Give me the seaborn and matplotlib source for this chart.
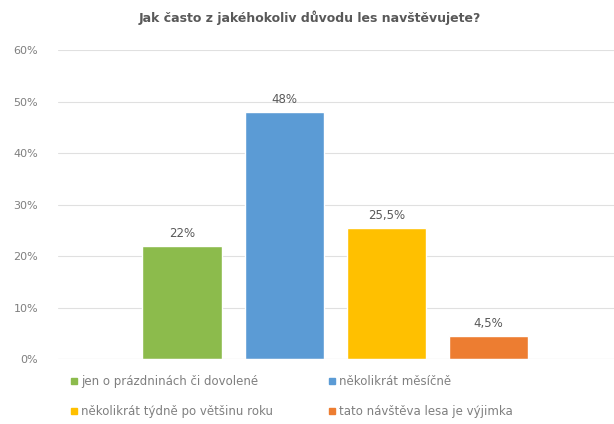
import numpy as np
import pandas as pd
import matplotlib.pyplot as plt
import seaborn as sns

categories = ["jen o prázdninách či dovolené", "několikrát měsíčně",
              "několikrát týdně po většinu roku", "tato návštěva lesa je výjimka"]
values = [22, 48, 25.5, 4.5]
value_labels = ["22%", "48%", "25,5%", "4,5%"]
colors = ["#8cbb4c", "#5b9bd5", "#ffc000", "#ed7d31"]
y_ticks = [0, 10, 20, 30, 40, 50, 60]
title = "Jak často z jakéhokoliv důvodu les navštěvujete?"

df = pd.DataFrame({"kategorie": categories, "podil": values})

sns.set_style("white")
plt.rcParams["font.family"] = ["DejaVu Sans"]

fig = plt.figure(figsize=(6.14, 4.24), dpi=100)
ax = fig.add_axes([0.094, 0.153, 0.906, 0.729])

sns.barplot(data=df, x="kategorie", y="podil", hue="kategorie",
            palette=colors, width=0.78, legend=False, ax=ax, saturation=1)

for i, (v, lab) in enumerate(zip(values, value_labels)):
    ax.text(i, v + 1.2, lab, ha="center", va="bottom", fontsize=8.5, color="#595959")

ax.set_ylim(0, 60)
ax.set_xlim(-1.22, 4.23)
ax.set_yticks(y_ticks)
ax.set_yticklabels([f"{t}%" for t in y_ticks], fontsize=8, color="#7f7f7f")
ax.set_xticks([])
ax.set_xlabel("")
ax.set_ylabel("")
ax.yaxis.grid(True, color="#e0e0e0", linewidth=0.8)
ax.set_axisbelow(True)
ax.tick_params(axis="y", length=0, pad=14)
for s in ax.spines.values():
    s.set_visible(False)
ax.axhline(0, color="#d9d9d9", linewidth=0.8)

fig.text(0.505, 0.958, title, ha="center", va="center", fontsize=9,
         fontweight="bold", color="#595959")

handles = [plt.Line2D([], [], marker="s", linestyle="", color=c, markersize=5)
           for c in colors]
order = [0, 2, 1, 3]
fig.legend([handles[i] for i in order], [categories[i] for i in order],
           ncol=2, loc="lower left", bbox_to_anchor=(0.095, -0.012),
           frameon=False, fontsize=8.5, labelcolor="#7f7f7f",
           handletextpad=0.2, columnspacing=4.6, labelspacing=1.45,
           handlelength=0.8)

fig.savefig("out.png", dpi=100, facecolor="white")
